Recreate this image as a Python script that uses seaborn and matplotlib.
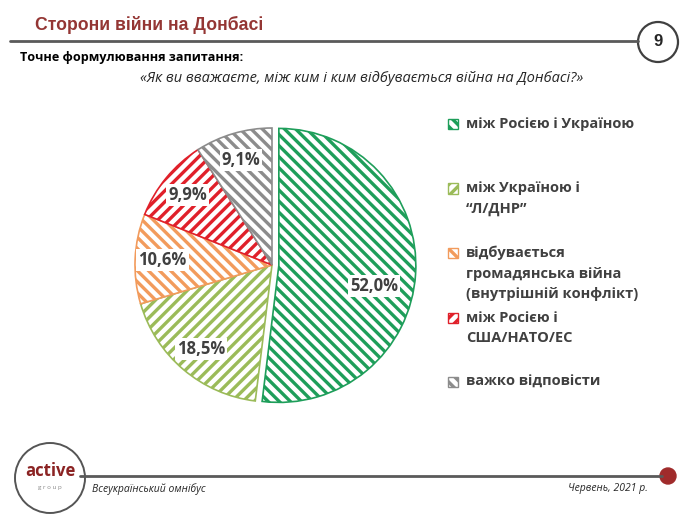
import matplotlib
matplotlib.use('Agg')
import matplotlib.pyplot as plt
from matplotlib.patches import Rectangle, Ellipse
from matplotlib.lines import Line2D
import seaborn as sns

# Chart data
categories = ['між Росією і Україною',
              'між Україною і\n“Л/ДНР”',
              'відбувається\nгромадянська війна\n(внутрішній конфлікт)',
              'між Росією і\nСША/НАТО/ЕС',
              'важко відповісти']
values = [52.0, 18.5, 10.6, 9.9, 9.1]
colors = ['#1E9E5A', '#9BBB59', '#F29B5C', '#E0202A', '#8C8C8C']
hatches = ['\\\\\\', '///', '\\\\\\', '///', '\\\\\\']
explode = [0.05, 0, 0, 0, 0]

title = 'Сторони війни на Донбасі'
subtitle = 'Точне формулювання запитання:'
question = '«Як ви вважаєте, між ким і ким відбувається війна на Донбасі?»'
footer_left = 'Всеукраїнський омнібус'
footer_right = 'Червень, 2021 р.'
page_no = '9'

sns.set_theme(style='white')
plt.rcParams['font.family'] = ['Open Sans', 'DejaVu Sans']
plt.rcParams['hatch.linewidth'] = 2.4

W, H = 692, 522
fig = plt.figure(figsize=(W / 100, H / 100), dpi=100)
fig.patch.set_facecolor('white')

def fx(x):
    return x / W

def fy(y):
    return 1 - y / H

def circle(x, y, r, **kw):
    fig.add_artist(Ellipse((fx(x), fy(y)), 2 * r / W, 2 * r / H,
                           transform=fig.transFigure, **kw))

# ---- header
fig.text(fx(35), fy(25), title, fontsize=12.7, fontweight='bold', color='#943634',
         family=['Liberation Sans', 'DejaVu Sans'], va='center', ha='left')
fig.add_artist(Line2D([fx(10), fx(638)], [fy(41), fy(41)], color='#5A5A5A', lw=2))
circle(658, 42, 20, facecolor='white', edgecolor='#404040', lw=1.6)
fig.text(fx(658), fy(42), page_no, fontsize=12, fontweight='bold', color='#262626',
         family=['Liberation Sans', 'DejaVu Sans'], ha='center', va='center')
fig.text(fx(20), fy(58), subtitle, fontsize=9.1, fontweight='bold', color='black',
         va='center', ha='left')
fig.text(fx(362), fy(79), question, fontsize=10.5, style='italic', color='#262626',
         va='center', ha='center')

# ---- pie
ax = fig.add_axes([fx(122), fy(265 + 150), 300 / W, 300 / H])
wedges, texts, autotexts = ax.pie(values, explode=explode, startangle=90, counterclock=False,
                                  autopct='%1.1f', pctdistance=0.8,
                                  wedgeprops=dict(linewidth=1.2))
for w, c, h in zip(wedges, colors, hatches):
    w.set_facecolor('white')
    w.set_edgecolor(c)
    w.set_hatch(h)
for t, v in zip(autotexts, values):
    t.set_text(f'{v:.1f}%'.replace('.', ','))
    t.set_fontsize(12)
    t.set_fontweight('bold')
    t.set_color('#404040')
    t.set_bbox(dict(facecolor='white', edgecolor='none', pad=1.5))
# the big slice label sits a bit closer to the centre
x0, y0 = autotexts[0].get_position()
autotexts[0].set_position((x0 * 0.88, y0 - 0.1))
lim = 150 / 137
ax.set_xlim(-lim, lim)
ax.set_ylim(-lim, lim)
ax.set_aspect('equal')
ax.axis('off')

# ---- legend (manual, Excel-like layout)
for i, (lab, c, h) in enumerate(zip(categories, colors, hatches)):
    yy = 124 + i * 64.5
    fig.add_artist(Rectangle((fx(448), fy(yy + 5)), 10 / W, 10 / H, transform=fig.transFigure,
                             facecolor='white', edgecolor=c, hatch=h, lw=1))
    fig.text(fx(466), fy(yy - 7), lab, fontsize=10.5, fontweight='bold', color='#404040',
             va='top', ha='left', linespacing=1.58)

# ---- footer
fig.add_artist(Line2D([fx(80), fx(662)], [fy(476), fy(476)], color='#5A5A5A', lw=2))
circle(668, 476, 8, facecolor='#A02B2B', edgecolor='#A02B2B')
circle(50, 478, 35, facecolor='white', edgecolor='#555555', lw=1.4)
fig.text(fx(50), fy(471), 'active', fontsize=12, fontweight='bold', color='#8B2323',
         ha='center', va='center')
fig.text(fx(50), fy(487), 'g r o u p', fontsize=4.5, color='#888888', ha='center', va='center')
fig.text(fx(92), fy(489), footer_left, fontsize=7.5, style='italic', color='#262626',
         ha='left', va='center')
fig.text(fx(648), fy(489), footer_right, fontsize=7.5, style='italic', color='#262626',
         ha='right', va='center')

fig.savefig('out.png', dpi=100, facecolor='white')
